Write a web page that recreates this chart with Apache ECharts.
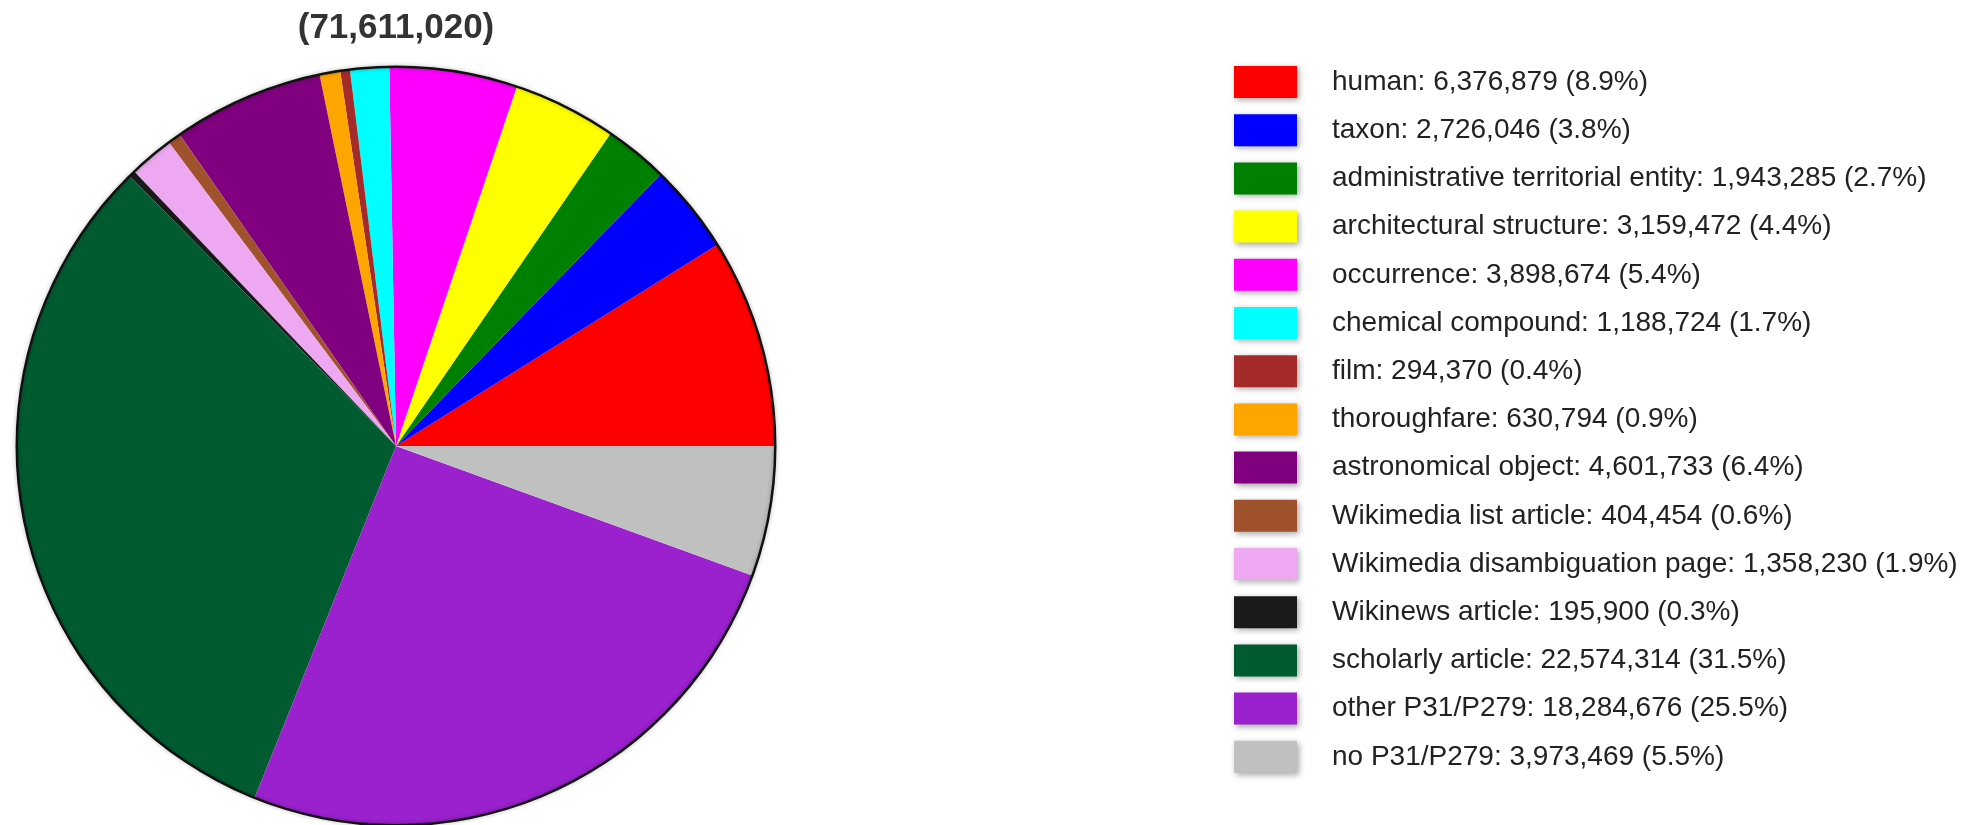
<!DOCTYPE html>
<html>
<head>
<meta charset="utf-8">
<title>Items by P31/P279 class</title>
<script src="https://cdn.jsdelivr.net/npm/echarts@6/dist/echarts.min.js"></script>
<style>
  html, body { margin: 0; padding: 0; background: #ffffff; }
  #chart { width: 1969px; height: 825px; }
</style>
</head>
<body>
<div id="chart"></div>
<script>
// Item classes, their counts and slice colours
const classNames = [
  'human', 'taxon', 'administrative territorial entity', 'architectural structure',
  'occurrence', 'chemical compound', 'film', 'thoroughfare', 'astronomical object',
  'Wikimedia list article', 'Wikimedia disambiguation page', 'Wikinews article',
  'scholarly article', 'other P31/P279', 'no P31/P279'
];
const classCounts = [
  6376879, 2726046, 1943285, 3159472,
  3898674, 1188724, 294370, 630794, 4601733,
  404454, 1358230, 195900,
  22574314, 18284676, 3973469
];
const classColors = [
  '#ff0000', '#0000ff', '#008000', '#ffff00',
  '#ff00ff', '#00ffff', '#a52a2a', '#ffa500', '#800080',
  '#a0522d', '#eea8f2', '#1a1a1a',
  '#005c30', '#9a21cd', '#c0c0c0'
];

const total = classCounts.reduce((a, b) => a + b, 0);
const fmt = n => n.toLocaleString('en-US');
const countByName = {};
classNames.forEach((n, i) => { countByName[n] = classCounts[i]; });

const pieData = classNames.map((n, i) => ({
  name: n,
  value: classCounts[i],
  itemStyle: { color: classColors[i] }
}));

const FONT = '"Liberation Sans", Arial, sans-serif';
const CENTER = [396, 446];
const R = 379;

const chart = echarts.init(document.getElementById('chart'), null, { renderer: 'canvas' });
chart.setOption({
  animation: false,
  backgroundColor: '#ffffff',
  title: {
    text: '(' + fmt(total) + ')',
    left: 391,
    top: 6,
    textAlign: 'center',
    textStyle: { fontFamily: FONT, fontSize: 35, fontWeight: 'bold', color: '#333333' }
  },
  legend: {
    orient: 'vertical',
    left: 1234,
    top: 66,
    padding: 0,
    itemWidth: 63,
    itemHeight: 32,
    itemGap: 16.2,
    icon: 'rect',
    data: classNames,
    selectedMode: false,
    itemStyle: {
      shadowBlur: 6,
      shadowColor: 'rgba(0,0,0,0.35)',
      shadowOffsetX: 2,
      shadowOffsetY: 2
    },
    textStyle: {
      fontFamily: FONT,
      fontSize: 28,
      color: '#222222',
      padding: [2, 0, 0, 30]
    },
    formatter: name => {
      const v = countByName[name];
      return name + ': ' + fmt(v) + ' (' + (v / total * 100).toFixed(1) + '%)';
    }
  },
  series: [
    {
      type: 'pie',
      center: CENTER,
      radius: [0, R],
      startAngle: 0,
      clockwise: false,
      silent: true,
      label: { show: false },
      labelLine: { show: false },
      itemStyle: { borderWidth: 0 },
      data: pieData
    },
    {
      // thin dark rim around the whole pie
      type: 'pie',
      center: CENTER,
      radius: [R - 1, R + 1.5],
      silent: true,
      label: { show: false },
      labelLine: { show: false },
      itemStyle: {
        color: '#111111',
        borderWidth: 0,
        shadowBlur: 4,
        shadowColor: 'rgba(0,0,0,0.3)'
      },
      data: [{ name: 'total', value: total }]
    }
  ]
});
</script>
</body>
</html>
